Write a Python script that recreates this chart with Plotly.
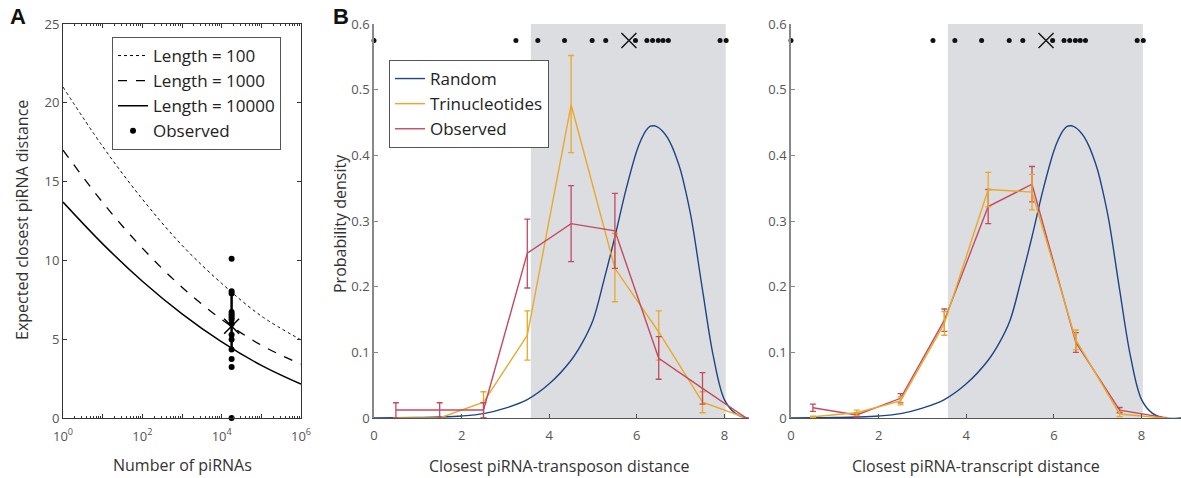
import plotly.graph_objects as go

# ---------------- data ----------------
# Panel A: expected closest piRNA distance vs number of piRNAs
n_pirnas = [1, 10, 100, 1000, 10000, 100000, 1000000]
len100 = [21.0, 17.23, 13.89, 10.96, 8.54, 6.47, 4.96]
len1000 = [17.0, 13.68, 10.78, 8.30, 6.25, 4.62, 3.41]
len10000 = [13.7, 11.05, 8.68, 6.61, 4.83, 3.34, 2.15]
obs_n = 17800
obs_dist = [0, 3.24, 3.74, 4.35, 4.98, 5.29, 5.97, 6.23, 6.36, 6.49, 6.60, 6.72, 7.90, 8.04, 10.1]
obs_mean = 5.82
obs_range = [4.35, 8.04]
shade_range = [3.58, 8.03]

# Panels B / C: histograms
bins = [0.5, 1.5, 2.5, 3.5, 4.5, 5.5, 6.5, 7.5, 8.5]
rand_x = [0, 0.5, 1.0, 1.5, 2.0, 2.5, 3.0, 3.5, 4.0, 4.5, 4.75, 5.0, 5.25, 5.5, 5.75,
          6.0, 6.1, 6.2, 6.3, 6.4, 6.5, 6.6, 6.7, 6.8, 6.9, 7.0, 7.1, 7.25, 7.5, 7.75,
          8.0, 8.25, 8.5, 8.9]
rand_y = [0, 0.0003, 0.0008, 0.0015, 0.003, 0.0066, 0.015, 0.028, 0.052, 0.088, 0.114, 0.149,
          0.21, 0.276, 0.347, 0.407, 0.424, 0.437, 0.444, 0.445, 0.442, 0.436, 0.427, 0.414,
          0.397, 0.377, 0.35, 0.302, 0.195, 0.093, 0.028, 0.007, 0.0, 0.0]

tri_b = [0, 0, 0.024, 0.126, 0.477, 0.228, 0.131, 0.024, 0]
tri_b_up = [0, 0, 0.016, 0.037, 0.075, 0.053, 0.032, 0.016, 0]
tri_b_dn = [0, 0, 0.024, 0.038, 0.073, 0.051, 0.043, 0.016, 0]
obs_b = [0.0122, 0.0122, 0.0122, 0.251, 0.296, 0.285, 0.091, 0.045, 0]
obs_b_up = [0.011, 0.011, 0.011, 0.052, 0.058, 0.057, 0.033, 0.024, 0]
obs_b_dn = [0.0122, 0.0122, 0.0122, 0.053, 0.058, 0.057, 0.032, 0.024, 0]

tri_c = [0.002, 0.008, 0.026, 0.144, 0.348, 0.344, 0.119, 0.006, 0]
tri_c_err = [0.001, 0.004, 0.006, 0.018, 0.026, 0.027, 0.015, 0.004, 0]
obs_c = [0.0157, 0.0046, 0.030, 0.149, 0.322, 0.356, 0.115, 0.012, 0.001]
obs_c_err = [0.0055, 0.003, 0.007, 0.017, 0.026, 0.027, 0.015, 0.004, 0]

dot_y = 0.575

BLUE = "#1c4587"
YEL = "#e8a92a"
RED = "#c24b62"
FONT = "Open Sans"

fig = go.Figure()

# ---------- Panel A ----------
fig.add_trace(go.Scatter(x=n_pirnas, y=len100, mode="lines", name="Length = 100",
                         line=dict(color="black", width=1, dash="dot", shape="spline"),
                         xaxis="x", yaxis="y", legend="legend"))
fig.add_trace(go.Scatter(x=n_pirnas, y=len1000, mode="lines", name="Length = 1000",
                         line=dict(color="black", width=1.3, dash="dash", shape="spline"),
                         xaxis="x", yaxis="y", legend="legend"))
fig.add_trace(go.Scatter(x=n_pirnas, y=len10000, mode="lines", name="Length = 10000",
                         line=dict(color="black", width=1.5, shape="spline"),
                         xaxis="x", yaxis="y", legend="legend"))
fig.add_trace(go.Scatter(x=[obs_n, obs_n], y=obs_range, mode="lines", showlegend=False,
                         line=dict(color="black", width=2.5), xaxis="x", yaxis="y"))
fig.add_trace(go.Scatter(x=[obs_n] * len(obs_dist), y=obs_dist, mode="markers", name="Observed",
                         marker=dict(color="black", size=6), cliponaxis=False,
                         xaxis="x", yaxis="y", legend="legend"))
fig.add_trace(go.Scatter(x=[obs_n], y=[obs_mean], mode="markers", showlegend=False,
                         marker=dict(symbol="x-thin", size=15, line=dict(color="black", width=1.5)),
                         xaxis="x", yaxis="y"))
# invisible trace so that the top (mirror) log axis is drawn
fig.add_trace(go.Scatter(x=[n_pirnas[0], n_pirnas[-1]], y=[0, 0], mode="lines", showlegend=False,
                         line=dict(width=0), hoverinfo="skip", xaxis="x4", yaxis="y"))

# ---------- Panel B ----------
fig.add_trace(go.Scatter(x=rand_x, y=rand_y, mode="lines", name="Random",
                         line=dict(color=BLUE, width=1.4, shape="spline", smoothing=1.0),
                         xaxis="x2", yaxis="y2", legend="legend2"))
fig.add_trace(go.Scatter(x=bins, y=tri_b, mode="lines", name="Trinucleotides",
                         line=dict(color=YEL, width=1.4),
                         error_y=dict(type="data", array=tri_b_up, arrayminus=tri_b_dn,
                                      color=YEL, thickness=1.3, width=3),
                         xaxis="x2", yaxis="y2", legend="legend2"))
fig.add_trace(go.Scatter(x=bins, y=obs_b, mode="lines", name="Observed",
                         line=dict(color=RED, width=1.4),
                         error_y=dict(type="data", array=obs_b_up, arrayminus=obs_b_dn,
                                      color=RED, thickness=1.3, width=3),
                         xaxis="x2", yaxis="y2", legend="legend2"))
fig.add_trace(go.Scatter(x=obs_dist, y=[dot_y] * len(obs_dist), mode="markers", showlegend=False,
                         marker=dict(color="#111", size=5), cliponaxis=False,
                         xaxis="x2", yaxis="y2"))
fig.add_trace(go.Scatter(x=[obs_mean], y=[dot_y], mode="markers", showlegend=False,
                         marker=dict(symbol="x-thin", size=15, line=dict(color="#111", width=1.4)),
                         xaxis="x2", yaxis="y2"))

# ---------- Panel C ----------
fig.add_trace(go.Scatter(x=rand_x, y=rand_y, mode="lines", showlegend=False,
                         line=dict(color=BLUE, width=1.4, shape="spline", smoothing=1.0),
                         xaxis="x3", yaxis="y3"))
fig.add_trace(go.Scatter(x=bins, y=obs_c, mode="lines", showlegend=False,
                         line=dict(color=RED, width=1.4),
                         error_y=dict(type="data", array=obs_c_err, color=RED, thickness=1.3, width=3),
                         xaxis="x3", yaxis="y3"))
fig.add_trace(go.Scatter(x=bins, y=tri_c, mode="lines", showlegend=False,
                         line=dict(color=YEL, width=1.4),
                         error_y=dict(type="data", array=tri_c_err, color=YEL, thickness=1.3, width=3),
                         xaxis="x3", yaxis="y3"))
fig.add_trace(go.Scatter(x=obs_dist, y=[dot_y] * len(obs_dist), mode="markers", showlegend=False,
                         marker=dict(color="#111", size=5), cliponaxis=False,
                         xaxis="x3", yaxis="y3"))
fig.add_trace(go.Scatter(x=[obs_mean], y=[dot_y], mode="markers", showlegend=False,
                         marker=dict(symbol="x-thin", size=15, line=dict(color="#111", width=1.4)),
                         xaxis="x3", yaxis="y3"))

tickfont = dict(family=FONT, size=13, color="#555")
titlefont = dict(family=FONT, size=16, color="#333")

ydom = [60 / 478, 454 / 478]
xdomA = [63 / 1181, 301 / 1181]

shapes = []
for xr, yr in (("x2", "y2"), ("x3", "y3")):
    shapes.append(dict(type="rect", xref=xr, yref=yr, x0=shade_range[0], x1=shade_range[1],
                       y0=0, y1=0.6, fillcolor="#dcdde0", line=dict(width=0), layer="below"))


def ann(text, x, y, angle=0, font=titlefont):
    return dict(text=text, x=x / 1181, y=1 - y / 478, xref="paper", yref="paper",
                xanchor="center", yanchor="middle", showarrow=False, textangle=angle, font=font)


labfont = dict(family="Liberation Sans", size=22, color="#111")
decades = [1, 10, 100, 1000, 1e4, 1e5, 1e6]

fig.update_layout(
    width=1181, height=478,
    margin=dict(l=0, r=0, t=0, b=0),
    paper_bgcolor="white", plot_bgcolor="rgba(0,0,0,0)",
    font=dict(family=FONT, color="#333"),
    shapes=shapes,
    xaxis=dict(domain=xdomA, type="log", range=[0, 6], automargin=False,
               tickvals=decades,
               ticktext=["10<sup>0</sup>", "", "10<sup>2</sup>", "", "10<sup>4</sup>", "", "10<sup>6</sup>"],
               ticks="inside", ticklen=4, tickcolor="#333", mirror=True, ticklabelstandoff=6,
               showline=True, linecolor="#333", linewidth=1, showgrid=False, zeroline=False,
               minor=dict(ticks="inside", ticklen=2, dtick="D1", tickcolor="#333", showgrid=False),
               tickfont=tickfont, anchor="y"),
    xaxis4=dict(domain=xdomA, type="log", range=[0, 6], automargin=False, overlaying="x",
                side="top", anchor="y", tickvals=decades, showticklabels=False,
                ticks="inside", ticklen=4, tickcolor="#333", showline=False,
                showgrid=False, zeroline=False,
                minor=dict(ticks="inside", ticklen=2, dtick="D1", tickcolor="#333", showgrid=False)),
    yaxis=dict(domain=ydom, range=[0, 25], tickvals=[0, 5, 10, 15, 20, 25], automargin=False,
               ticks="inside", ticklen=4, tickcolor="#333", mirror="ticks",
               showline=True, linecolor="#333", linewidth=1, showgrid=False, zeroline=False,
               tickfont=tickfont, anchor="x"),
    xaxis2=dict(domain=[374 / 1181, 748.5 / 1181], range=[0, 8.55], tickvals=[0, 2, 4, 6, 8],
                automargin=False, ticklabelstandoff=5,
                ticks="inside", ticklen=4, tickcolor="#555", showline=True, linecolor="#555",
                linewidth=1.2, showgrid=False, zeroline=False, tickfont=tickfont, anchor="y2"),
    yaxis2=dict(domain=ydom, range=[0, 0.6], tickvals=[0, 0.1, 0.2, 0.3, 0.4, 0.5, 0.6],
                ticktext=["0", "0.1", "0.2", "0.3", "0.4", "0.5", "0.6"], automargin=False,
                ticks="inside", ticklen=4, tickcolor="#888", showline=True, linecolor="#888",
                linewidth=1.5, showgrid=False, zeroline=False, tickfont=tickfont, anchor="x2"),
    xaxis3=dict(domain=[791 / 1181, 1.0], range=[0, 8.9], tickvals=[0, 2, 4, 6, 8],
                automargin=False, ticklabelstandoff=5,
                ticks="inside", ticklen=4, tickcolor="#555", showline=True, linecolor="#555",
                linewidth=1.2, showgrid=False, zeroline=False, tickfont=tickfont, anchor="y3"),
    yaxis3=dict(domain=ydom, range=[0, 0.6], tickvals=[0, 0.1, 0.2, 0.3, 0.4, 0.5, 0.6],
                ticktext=["0", "0.1", "0.2", "0.3", "0.4", "0.5", "0.6"], automargin=False,
                ticks="inside", ticklen=4, tickcolor="#888", showline=True, linecolor="#888",
                linewidth=1.5, showgrid=False, zeroline=False, tickfont=tickfont, anchor="x3"),
    legend=dict(x=112 / 1181, y=1 - 37 / 478, xanchor="left", yanchor="top",
                bgcolor="white", bordercolor="#555", borderwidth=1,
                font=dict(family=FONT, size=17, color="#222"), tracegroupgap=0,
                itemwidth=30),
    legend2=dict(x=389 / 1181, y=1 - 60 / 478, xanchor="left", yanchor="top",
                 bgcolor="white", bordercolor="#555", borderwidth=1,
                 font=dict(family=FONT, size=17, color="#222"), tracegroupgap=0,
                 itemwidth=30),
    annotations=[
        dict(text="<b>A</b>", x=8 / 1181, y=1 - 2 / 478, xref="paper", yref="paper",
             xanchor="left", yanchor="top", showarrow=False, font=labfont),
        dict(text="<b>B</b>", x=331 / 1181, y=1 - 2 / 478, xref="paper", yref="paper",
             xanchor="left", yanchor="top", showarrow=False, font=labfont),
        ann("Number of piRNAs", 182, 465),
        ann("Closest piRNA-transposon distance", 559, 466),
        ann("Closest piRNA-transcript distance", 976, 466),
        ann("Expected closest piRNA distance", 22, 220, angle=-90),
        ann("Probability density", 340, 224, angle=-90),
    ],
)

fig.write_html("out.html", config={"displayModeBar": False},
               post_script="document.body.style.margin='0';document.body.style.padding='0';"
                           "document.documentElement.style.overflow='hidden';")
